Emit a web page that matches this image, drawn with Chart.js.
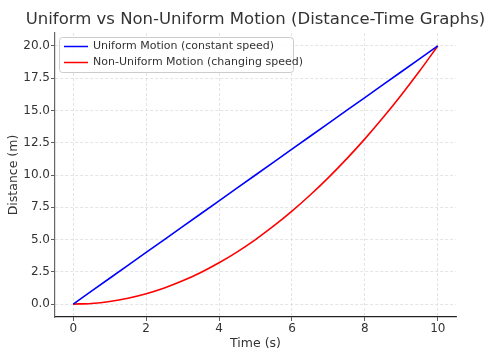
<!DOCTYPE html>
<html>
<head>
<meta charset="utf-8">
<script src="https://cdn.jsdelivr.net/npm/chart.js@4/dist/chart.umd.min.js"></script>
<style>
  html, body { margin: 0; padding: 0; background: #fff; }
  #wrap { width: 500px; height: 360px; }
</style>
</head>
<body>
<div id="wrap"><canvas id="motion-chart" width="500" height="360"></canvas></div>
<script>
// values
let times = [0, 0.5, 1, 1.5, 2, 2.5, 3, 3.5, 4, 4.5, 5, 5.5, 6, 6.5, 7, 7.5, 8, 8.5, 9, 9.5, 10]
let uniform = [0, 1, 2, 3, 4, 5, 6, 7, 8, 9, 10, 11, 12, 13, 14, 15, 16, 17, 18, 19, 20]
let nonUniform = [0, 0.05, 0.2, 0.45, 0.8, 1.25, 1.8, 2.45, 3.2, 4.05, 5, 6.05, 7.2, 8.45, 9.8, 11.25, 12.8, 14.45, 16.2, 18.05, 20]
let xTicks = [0, 2, 4, 6, 8, 10]
let yTicks = [0, 2.5, 5, 7.5, 10, 12.5, 15, 17.5, 20]
let chartTitle = 'Uniform vs Non-Uniform Motion (Distance-Time Graphs)'

const FONT = "'DejaVu Sans', sans-serif"

function pts(ys) {
  return times.map((t, i) => ({ x: t, y: ys[i] }))
}

// title centred over the axes, and legend box inside the plot (upper left)
const extras = {
  id: 'extras',
  afterDraw(chart) {
    const ctx = chart.ctx
    const a = chart.chartArea
    ctx.save()
    ctx.fillStyle = '#333333'
    ctx.font = '16.5px ' + FONT
    ctx.textAlign = 'center'
    ctx.textBaseline = 'middle'
    ctx.fillText(chartTitle, (a.left + a.right) / 2, 20)

    const x0 = a.left + 4, y0 = a.top + 4
    const w = 234, h = 35
    ctx.textAlign = 'left'
    ctx.fillStyle = 'rgba(255,255,255,0.85)'
    ctx.strokeStyle = '#cccccc'
    ctx.lineWidth = 1
    ctx.beginPath()
    ctx.roundRect(x0 + 0.5, y0 + 0.5, w, h, 3)
    ctx.fill()
    ctx.stroke()
    ctx.font = '11px ' + FONT
    chart.data.datasets.forEach((ds, i) => {
      const yy = y0 + 9.5 + i * 16
      ctx.strokeStyle = ds.borderColor
      ctx.lineWidth = 1.5
      ctx.beginPath()
      ctx.moveTo(x0 + 5, yy)
      ctx.lineTo(x0 + 29, yy)
      ctx.stroke()
      ctx.fillStyle = '#333333'
      ctx.fillText(ds.label, x0 + 34, yy)
    })
    ctx.restore()
  }
}

const ctx = document.getElementById('motion-chart')
const myChart = new Chart(ctx, {
  type: 'line',
  data: {
    datasets: [
      {
        data: pts(uniform),
        label: 'Uniform Motion (constant speed)',
        borderColor: '#0000ff',
        borderWidth: 1.6,
        pointRadius: 0,
        fill: false
      },
      {
        data: pts(nonUniform),
        label: 'Non-Uniform Motion (changing speed)',
        borderColor: '#ff0000',
        borderWidth: 1.6,
        pointRadius: 0,
        cubicInterpolationMode: 'monotone',
        fill: false
      }
    ]
  },
  plugins: [extras],
  options: {
    responsive: false,
    animation: false,
    layout: { padding: { left: 0, right: 44, top: 33, bottom: 0 } },
    plugins: {
      legend: { display: false },
      tooltip: { enabled: false },
      title: { display: false }
    },
    scales: {
      x: {
        type: 'linear',
        min: -0.5,
        max: 10.5,
        afterBuildTicks: s => { s.ticks = xTicks.map(v => ({ value: v })) },
        afterFit: s => { s.height = 43 },
        ticks: {
          color: '#333333',
          font: { family: FONT, size: 12 },
          padding: 1,
          maxRotation: 0
        },
        grid: { color: '#dddddd', tickColor: '#333333', tickLength: 4, lineWidth: 0.8 },
        border: { color: '#222222', width: 1.2, dash: [3, 2] },
        title: {
          display: true,
          text: 'Time (s)',
          color: '#333333',
          font: { family: FONT, size: 12.5 },
          padding: { top: 2, bottom: 9 }
        }
      },
      y: {
        type: 'linear',
        min: -1,
        max: 21,
        afterBuildTicks: s => { s.ticks = yTicks.map(v => ({ value: v })) },
        afterFit: s => { s.width = 55 },
        ticks: {
          color: '#333333',
          font: { family: FONT, size: 12 },
          padding: 1,
          callback: v => v.toFixed(1)
        },
        grid: { color: '#dddddd', tickColor: '#333333', tickLength: 4, lineWidth: 0.8 },
        border: { color: '#666666', width: 1.2, dash: [3, 2] },
        title: {
          display: true,
          text: 'Distance (m)',
          color: '#333333',
          font: { family: FONT, size: 12.5 },
          padding: { top: 6, bottom: 2 }
        }
      }
    }
  }
});
</script>
</body>
</html>
